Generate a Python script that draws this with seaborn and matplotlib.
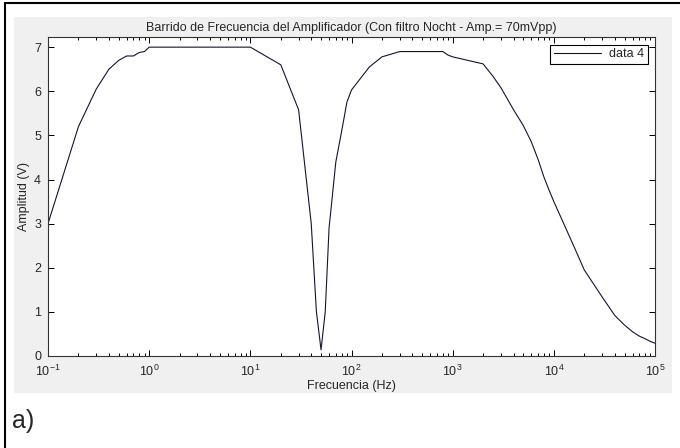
import numpy as np
import pandas as pd
import matplotlib
matplotlib.use('Agg')
import matplotlib.pyplot as plt
import seaborn as sns
from matplotlib.patches import Rectangle
from matplotlib.lines import Line2D

# Frequency sweep (Hz, V)
freq = [0.1, 0.2, 0.3, 0.4, 0.5, 0.6, 0.7, 0.8, 0.9, 1, 10, 20, 30, 40, 45, 50, 55, 60,
        70, 80, 90, 100, 150, 200, 300, 800, 900, 1000, 2000, 2500, 3000, 4000, 5000,
        6000, 7000, 8000, 9000, 10000, 15000, 20000, 30000, 40000, 50000, 60000,
        70000, 80000, 90000, 100000]
amp = [3.0, 5.2, 6.05, 6.5, 6.7, 6.8, 6.8, 6.88, 6.9, 7.0, 7.0, 6.6, 5.58, 3.0, 1.0, 0.14, 1.0, 2.9,
       4.4, 5.1, 5.75, 6.03, 6.55, 6.78, 6.9, 6.9, 6.82, 6.78, 6.62, 6.34, 6.08, 5.58, 5.22,
       4.85, 4.45, 4.05, 3.75, 3.5, 2.6, 1.95, 1.34, 0.92, 0.7, 0.55,
       0.45, 0.39, 0.33, 0.29]
series_label = 'data 4'
title = 'Barrido de Frecuencia del Amplificador (Con filtro Nocht - Amp.= 70mVpp)'
xlabel = 'Frecuencia (Hz)'
ylabel = 'Amplitud (V)'
xticks = [1e-1, 1e0, 1e1, 1e2, 1e3, 1e4, 1e5]
xticklabels = ['$10^{-1}$', '$10^{0}$', '$10^{1}$', '$10^{2}$', '$10^{3}$', '$10^{4}$', '$10^{5}$']
yticks = [0, 1, 2, 3, 4, 5, 6, 7]

df = pd.DataFrame({'freq': freq, 'amp': amp})

sns.set_style('ticks')
plt.rcParams['font.family'] = ['Liberation Sans', 'DejaVu Sans']
plt.rcParams['mathtext.fontset'] = 'custom'
plt.rcParams['mathtext.rm'] = 'Liberation Sans'
plt.rcParams['mathtext.it'] = 'Liberation Sans'
plt.rcParams['xtick.direction'] = 'in'
plt.rcParams['ytick.direction'] = 'in'

fig = plt.figure(figsize=(6.8, 4.48), dpi=100)
fig.patch.set_facecolor('white')

# MATLAB-like grey figure panel
fig.add_artist(Rectangle((14 / 680, 1 - 393 / 448), (672 - 14) / 680, (393 - 17) / 448,
                         transform=fig.transFigure, facecolor='#f0f0f0',
                         edgecolor='none', zorder=0))
# outer frame (top and left edges only)
fig.add_artist(Line2D([4.5 / 680, 4.5 / 680], [0, 1 - 3 / 448], transform=fig.transFigure,
                      color='black', lw=1.5))
fig.add_artist(Line2D([4.5 / 680, 1], [1 - 3 / 448, 1 - 3 / 448], transform=fig.transFigure,
                      color='black', lw=1.5))

ax = fig.add_axes([48 / 680, 1 - 356 / 448, (655 - 48) / 680, (356 - 37) / 448])
ax.set_facecolor('white')

sns.lineplot(data=df, x='freq', y='amp', ax=ax, color='#141432', lw=0.8,
             estimator=None, sort=False, label=series_label)

ax.set_xscale('log')
ax.set_xlim(1e-1, 1e5)
ax.set_ylim(0, 7.23)
ax.set_xticks(xticks)
ax.set_xticklabels(xticklabels, fontsize=9)
ax.set_yticks(yticks)
ax.set_yticklabels([str(v) for v in yticks], fontsize=9)
ax.xaxis.set_minor_locator(matplotlib.ticker.LogLocator(base=10, subs=np.arange(2, 10)))
ax.xaxis.set_minor_formatter(matplotlib.ticker.NullFormatter())
ax.tick_params(which='both', top=True, right=True, color='black', width=0.7)
ax.tick_params(which='major', length=4)
ax.tick_params(axis='x', which='major', pad=5.5)
ax.tick_params(axis='y', which='major', pad=5)
ax.tick_params(which='minor', length=2.5)
for s in ax.spines.values():
    s.set_color('#333333')
    s.set_linewidth(0.8)

ax.set_title(title, fontsize=9, pad=4)
ax.set_xlabel(xlabel, fontsize=9, labelpad=1)
ax.set_ylabel(ylabel, fontsize=9, labelpad=3)

leg = ax.legend(loc='upper right', fontsize=9, frameon=True, fancybox=False,
                borderaxespad=0.6, handlelength=3.8, handletextpad=0.6,
                borderpad=0.3)
leg.get_frame().set_edgecolor('black')
leg.get_frame().set_linewidth(0.8)
leg.get_frame().set_alpha(1)

fig.text(12 / 680, 1 - 428 / 448, 'a)', fontsize=18, ha='left', va='baseline')

fig.savefig('out.png', dpi=100)
